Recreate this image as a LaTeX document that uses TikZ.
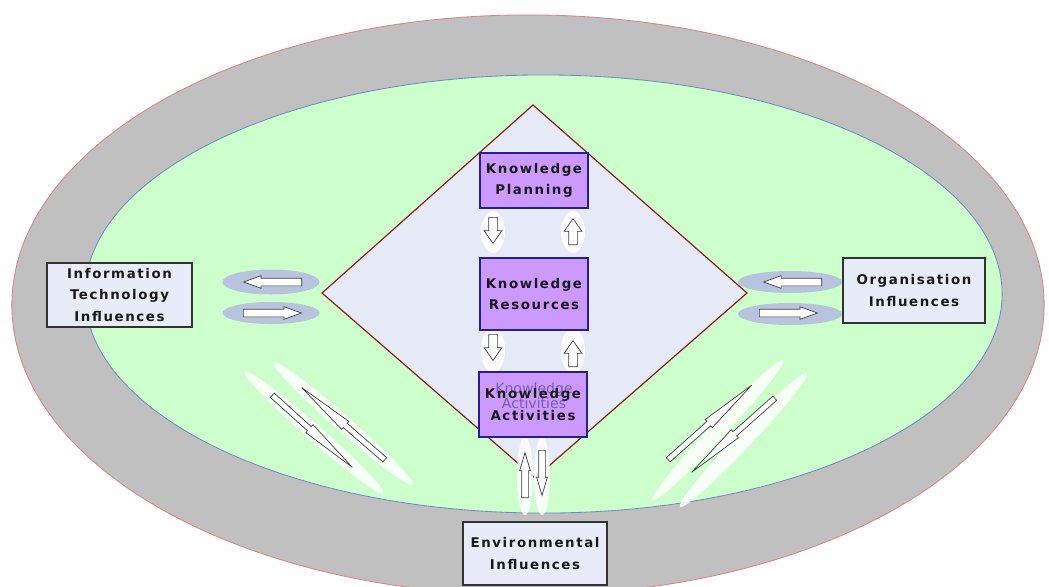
\documentclass[tikz,border=0pt]{standalone}
\usepackage{fontspec}
\usepackage{tikz}
\usepackage{xcolor}
\usetikzlibrary{shapes.arrows, shapes.geometric}
\newfontfamily\boxfont[LetterSpace=12]{DejaVu Sans}
\newfontfamily\ghostfont{DejaVu Sans}
\definecolor{ringgray}{RGB}{192, 192, 192}
\definecolor{ringred}{RGB}{225, 130, 130}
\definecolor{fieldgreen}{RGB}{204, 255, 204}
\definecolor{fieldblue}{RGB}{110, 140, 195}
\definecolor{diamfill}{RGB}{230, 234, 246}
\definecolor{diamedge}{RGB}{140, 30, 30}
\definecolor{kfill}{RGB}{204, 153, 255}
\definecolor{kedge}{RGB}{40, 30, 140}
\definecolor{inflfill}{RGB}{232, 236, 248}
\definecolor{padblue}{RGB}{184, 196, 222}
\definecolor{ghosttext}{RGB}{120, 95, 165}

\begin{document}
\begin{tikzpicture}[x=0.025cm,y=-0.025cm,
          kbox/.style={rectangle,draw=kedge,fill=kfill,line width=0.9pt,
                       inner sep=0pt,minimum width=2.7cm,align=center,text=black!90,
                       font=\boxfont\bfseries\fontsize{9.5}{15}\selectfont},
          infl/.style={rectangle,draw=black!80,fill=inflfill,line width=1pt,
                       inner sep=0pt,align=center,text=black!90,
                       font=\boxfont\bfseries\fontsize{9.5}{15}\selectfont},
          ghost/.style={align=center,text=ghosttext,
                        font=\ghostfont\fontsize{10}{10.7}\selectfont},
          halo/.style={ellipse,fill=padblue,inner sep=0pt},
          glow/.style={fill=white,fill opacity=0.85},
          hollow/.style={single arrow,draw=black!75,fill=white,
                         inner xsep=0pt,line width=0.5pt,anchor=tail},
          stub/.style={hollow,minimum height=0.65cm,inner ysep=0.1cm,
                       single arrow head extend=0.1125cm,single arrow tip angle=70},
          flat/.style={hollow,minimum height=1.45cm,inner ysep=0.0875cm,
                       single arrow head extend=0.0625cm,single arrow tip angle=40},
          stem/.style={hollow,minimum height=1.125cm,inner ysep=0.075cm,
                       single arrow head extend=0.05cm,single arrow tip angle=33},
          lance/.style={hollow,inner ysep=0.0625cm,
                        single arrow head extend=0.0625cm,single arrow tip angle=10.6}]
        \useasboundingbox (0,0) rectangle (1049,586);
        \draw[draw=ringred,fill=ringgray,line width=0.6pt]
          (528,305) ellipse [x radius=12.9cm,y radius=7.25cm];
        \draw[draw=fieldblue,fill=fieldgreen,line width=0.6pt]
          (543.5,294) ellipse [x radius=11.4625cm,y radius=5.475cm];
        \fill[glow,rotate around={-41.2:(314,432.5)}]
          (314,432.5) ellipse [x radius=2.3cm,y radius=0.2cm];
        \fill[glow,rotate around={-41.3:(343,423.5)}]
          (343,423.5) ellipse [x radius=2.33cm,y radius=0.2cm];
        \fill[glow,rotate around={47:(718,430)}]
          (718,430) ellipse [x radius=2.39cm,y radius=0.2cm];
        \fill[glow,rotate around={46.5:(743.5,440)}]
          (743.5,440) ellipse [x radius=2.31cm,y radius=0.2cm];
        \coordinate(dtop) at (533,105);
        \coordinate(dright) at (747,293);
        \coordinate(dbot) at (535,478);
        \coordinate(dleft) at (322,293);
        \draw[draw=diamedge,fill=diamfill,line width=0.85pt]
          (dtop)--(dright)--(dbot)--(dleft)--cycle;
        \fill[glow] (493,232) ellipse [x radius=0.3cm,y radius=0.525cm];
        \fill[glow] (573,232) ellipse [x radius=0.3cm,y radius=0.525cm];
        \fill[glow] (493,350) ellipse [x radius=0.3cm,y radius=0.575cm];
        \fill[glow] (573,351) ellipse [x radius=0.3cm,y radius=0.575cm];
        \fill[glow] (525,476) ellipse [x radius=0.2cm,y radius=0.975cm];
        \fill[glow] (542,476) ellipse [x radius=0.2cm,y radius=0.975cm];
        \node[kbox,minimum height=1.375cm](plan) at (534,180.5){Knowledge\\Planning};
        \node[kbox,minimum height=1.8cm](res) at (534,294){Knowledge\\Resources};
        \node[kbox,minimum height=1.625cm](act) at (533,404.5){};
        \node[ghost](actghost) at (534,396){Knowledge\\Activities};
        \node[kbox,draw=none,fill=none](acttext) at (act.center){Knowledge\\Activities};
        \node[infl,minimum width=3.625cm,minimum height=1.6cm](it) at (119.5,295)
          {Information\\Technology\\Influences};
        \node[infl,minimum width=3.55cm,minimum height=1.625cm](org) at (914,290.5)
          {Organisation\\Influences};
        \node[infl,minimum width=3.6cm,minimum height=1.575cm](env) at (535,553.5)
          {Environmental\\Influences};
        \node[halo,minimum width=2.425cm,minimum height=0.625cm](ithaloA) at (271,282){};
        \node[halo,minimum width=2.425cm,minimum height=0.55cm](ithaloB) at (271,313){};
        \node[halo,minimum width=2.6cm,minimum height=0.55cm](orghaloA) at (790,282){};
        \node[halo,minimum width=2.6cm,minimum height=0.55cm](orghaloB) at (790,314){};
        \node[stub,rotate=-90](planres) at (493,217){};
        \node[stub,rotate=90](resplan) at (573,245){};
        \node[stub,rotate=-90](resact) at (493,334){};
        \node[stub,rotate=90](actres) at (573,367){};
        \node[flat,rotate=180](itin) at (302,282){};
        \node[flat](itout) at (243,313){};
        \node[flat,rotate=180](orgin) at (822,282){};
        \node[flat](orgout) at (759,313){};
        \node[stem,rotate=90](envup) at (525,498){};
        \node[stem,rotate=-90](envdown) at (542,450){};
        \node[lance,minimum height=2.69cm,rotate=-42](lanceA) at (272,395){};
        \node[lance,minimum height=2.75cm,rotate=139](lanceB) at (385,460){};
        \node[lance,minimum height=2.8cm,rotate=41.8](lanceC) at (668,460){};
        \node[lance,minimum height=2.78cm,rotate=-138.3](lanceD) at (775,398){};
      \end{tikzpicture}
\end{document}
